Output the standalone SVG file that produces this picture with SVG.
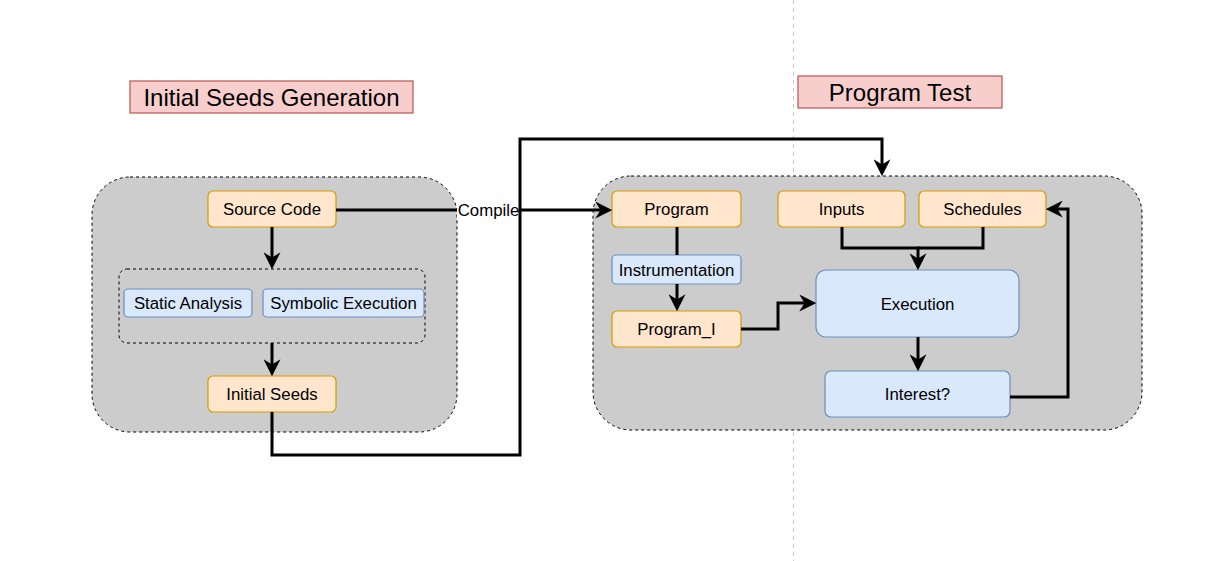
<svg xmlns="http://www.w3.org/2000/svg" width="1227" height="561" viewBox="0 0 1227 561">
<defs>
<style>
text{font-family:"Liberation Sans",Arial,sans-serif;fill:#000;text-anchor:middle}
.t{font-size:16.8px}
.h{font-size:24px}
.cont{fill:#cccccc;stroke:#000;stroke-width:1;stroke-dasharray:3 3}
.inner{fill:none;stroke:#000;stroke-width:1;stroke-dasharray:3 3}
.or{fill:#ffe6cc;stroke:#d79b00;stroke-width:1.2}
.bl{fill:#dae8fc;stroke:#6c8ebf;stroke-width:1.2}
.hd{fill:#f8cecc;stroke:#b85450;stroke-width:1.2}
.e{fill:none;stroke:#000;stroke-width:3}
.a{marker-end:url(#arr)}
</style>
<marker id="arr" markerUnits="userSpaceOnUse" markerWidth="17" markerHeight="17" viewBox="0 0 16 16" refX="12" refY="8" orient="auto">
<path d="M0,0 L16,8 L0,16 L5,8 z" fill="#000"/>
</marker>
</defs>
<rect width="1227" height="561" fill="#fff"/>
<line x1="793.5" y1="0" x2="793.5" y2="561" stroke="#c8c8c8" stroke-width="1" stroke-dasharray="4 4"/>

<g id="header-seeds"><rect class="hd" x="130" y="81" width="283" height="32"/><text class="h" x="271.5" y="105.5">Initial Seeds Generation</text></g>
<g id="header-test"><rect class="hd" x="798" y="76" width="204" height="32"/><text class="h" x="900" y="100.5">Program Test</text></g>

<g id="container-seeds"><rect class="cont" x="92" y="177" width="365" height="255" rx="38"/></g>
<g id="container-test"><rect class="cont" x="593" y="176" width="549" height="254" rx="38"/></g>
<g id="analysis-group"><rect class="inner" x="119" y="269" width="306" height="74" rx="8"/></g>

<g id="source-code"><rect class="or" x="208" y="191" width="128" height="36" rx="5"/><text class="t" x="272" y="215">Source Code</text></g>
<g id="static-analysis"><rect class="bl" x="124" y="289" width="128" height="28" rx="4"/><text class="t" x="188" y="309">Static Analysis</text></g>
<g id="symbolic-execution"><rect class="bl" x="263" y="289" width="161" height="28" rx="4"/><text class="t" x="343.5" y="309">Symbolic Execution</text></g>
<g id="initial-seeds"><rect class="or" x="208" y="376" width="128" height="36" rx="5"/><text class="t" x="272" y="400">Initial Seeds</text></g>

<g id="program"><rect class="or" x="612" y="191" width="129" height="36" rx="5"/><text class="t" x="676.5" y="215">Program</text></g>
<g id="instrumentation"><rect class="bl" x="612" y="255" width="129" height="29" rx="4"/><text class="t" x="676.5" y="275.5">Instrumentation</text></g>
<g id="program-i"><rect class="or" x="612" y="311" width="129" height="36" rx="5"/><text class="t" x="676.5" y="335">Program_I</text></g>
<g id="inputs"><rect class="or" x="778" y="191" width="127" height="36" rx="5"/><text class="t" x="841.5" y="215">Inputs</text></g>
<g id="schedules"><rect class="or" x="919" y="191" width="127" height="36" rx="5"/><text class="t" x="982.5" y="215">Schedules</text></g>
<g id="execution"><rect class="bl" x="816" y="270" width="203" height="67" rx="10"/><text class="t" x="917.5" y="309.5">Execution</text></g>
<g id="interest"><rect class="bl" x="825" y="371" width="185" height="46" rx="6"/><text class="t" x="917.5" y="400">Interest?</text></g>

<g id="connectors">
<path class="e a" d="M336,210 H608"/>
<rect x="457" y="201" width="63" height="18" fill="#fff"/>
<text class="t" x="488.5" y="216">Compile</text>
<path class="e a" d="M272,412 V455 H520 V139 H882 V172"/>
<path class="e a" d="M272,227 V265"/>
<path class="e a" d="M272,343 V372"/>
<path class="e" d="M677,227 V255"/>
<path class="e a" d="M677,284 V307"/>
<path class="e a" d="M741,329 H778 V303 H812"/>
<path class="e a" d="M842,227 V248 H918 V266"/>
<path class="e" d="M983,227 V248 H918"/>
<path class="e a" d="M918,337 V367"/>
<path class="e a" d="M1010,397 H1068 V209 H1050"/>
</g>
</svg>
